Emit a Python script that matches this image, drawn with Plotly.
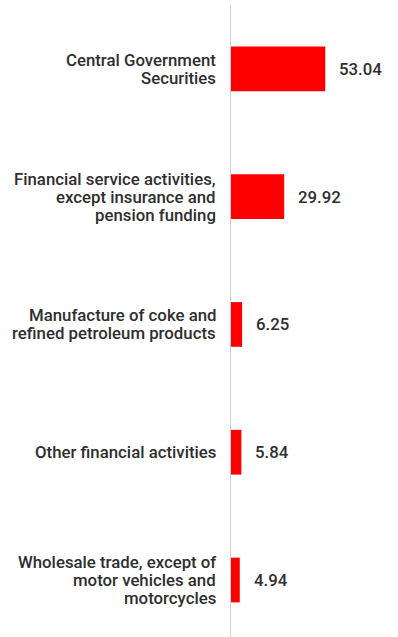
import plotly.graph_objects as go

categories = [
    "Central Government<br>Securities",
    "Financial service activities,<br>except insurance and<br>pension funding",
    "Manufacture of coke and<br>refined petroleum products",
    "Other financial activities",
    "Wholesale trade, except of<br>motor vehicles and<br>motorcycles",
]
values = [53.04, 29.92, 6.25, 5.84, 4.94]
value_labels = ["53.04", "29.92", "6.25", "5.84", "4.94"]

FONT = dict(family="Roboto", size=16.8, color="#2e2e2e", weight=500)
LINE_H = 18

fig = go.Figure()
fig.add_trace(go.Bar(
    x=values, y=categories, orientation="h",
    marker=dict(color="#ff0000", line=dict(width=0)),
    width=0.35, hoverinfo="skip",
))
for c, v, t in zip(categories, values, value_labels):
    fig.add_annotation(x=v, y=c, text=t, showarrow=False, xanchor="left",
                       xshift=12, font=FONT)
    lines = c.split("<br>")
    n = len(lines)
    for i, ln in enumerate(lines):
        fig.add_annotation(x=0, y=c, text=ln, showarrow=False, xanchor="right",
                           yanchor="middle", xshift=-13,
                           yshift=((n - 1) / 2 - i) * LINE_H, font=FONT)

fig.update_layout(
    width=398, height=637,
    margin=dict(l=231, r=0, t=5, b=0),
    paper_bgcolor="white", plot_bgcolor="white",
    showlegend=False,
    xaxis=dict(range=[0, 94], showgrid=False, zeroline=False, showticklabels=False,
               showline=False, fixedrange=True),
    yaxis=dict(type="category", range=[4.446, -0.5], showgrid=False, zeroline=False,
               showline=True, linecolor="#d0d0d0", linewidth=1, ticks="",
               showticklabels=False),
)
fig.write_html("out.html")
